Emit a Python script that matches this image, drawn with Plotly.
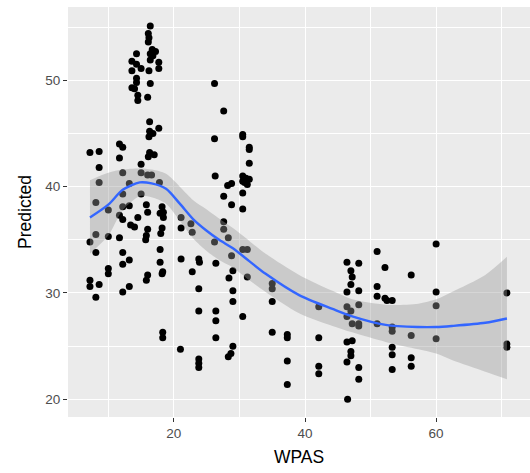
import plotly.graph_objects as go

# ---- scatter data (WPAS, Predicted) ----
wpas = [
    7.2, 7.2, 7.2, 7.2,
    8.1, 8.1, 8.1, 8.1,
    8.6, 8.6, 8.6, 8.6,
    10.0, 10.0, 10.0, 10.0,
    11.7, 11.7, 11.7, 11.7,
    12.2, 12.2, 12.2, 12.2, 12.2, 12.2, 12.2, 12.2,
    13.2, 13.2, 13.2, 13.2, 13.4, 13.6, 13.6, 13.6,
    14.3, 14.3, 14.3, 14.3, 14.0, 14.5, 14.5, 14.5, 14.0,
    15.0, 15.0, 15.0, 15.0,
    16.0, 15.8, 16.0, 16.0, 15.8, 15.7, 16.0, 15.8, 16.0,
    16.4, 16.1, 16.2, 16.1, 16.7, 16.4, 16.8, 16.4, 16.2, 16.4, 16.3, 16.3, 16.8, 16.2,
    16.3, 17.0, 16.1, 16.6,
    17.2, 17.7, 17.7, 17.7, 17.8, 17.9, 17.9, 17.9,
    18.2, 18.4, 18.4, 18.2, 18.0, 18.3, 18.2, 18.3, 18.3,
    21.1, 21.1, 21.1, 21.0,
    22.6, 22.8, 22.8,
    23.8, 23.9, 23.8, 23.8, 23.8, 23.8, 23.8,
    26.2, 26.2, 26.3, 26.2, 26.4, 26.4, 26.4, 26.4,
    27.6, 27.6, 27.6, 27.6,
    28.2, 28.8, 28.8, 28.3, 28.8, 29.0, 28.4, 29.0, 29.0, 29.0, 28.7, 28.3,
    30.5, 30.5, 31.5, 31.5, 31.5, 30.5, 31.0, 31.5, 30.5, 30.8, 31.2, 30.5, 30.5,
    30.5, 31.2, 31.2, 30.5,
    35.0, 35.0, 35.0, 35.0,
    37.3, 37.3, 37.3, 37.3,
    42.1, 42.1, 42.1, 42.1,
    46.4, 47.0, 47.2, 47.0, 46.4, 46.4, 47.0, 46.4, 47.2, 46.4, 47.2, 47.0, 47.0,
    46.4, 46.5,
    48.2, 48.2, 48.2, 48.2, 48.2, 48.2, 48.2,
    51.0, 51.0, 51.0, 51.0,
    52.2, 52.2, 52.5, 53.3, 53.3, 53.3, 53.3, 53.3, 53.3,
    56.2, 56.2, 56.2, 56.2,
    60.0, 60.0, 60.0, 60.0,
    70.8, 70.8, 70.8,
]
predicted = [
    43.2, 34.8, 31.2, 30.6,
    38.5, 35.5, 33.8, 29.6,
    43.3, 41.8, 40.4, 30.8,
    37.8, 35.3, 32.3, 31.8,
    44.0, 42.7, 37.3, 35.2,
    43.7, 41.3, 39.3, 38.1, 36.9, 33.8, 32.7, 30.1,
    40.3, 38.2, 33.1, 30.6, 36.4, 51.8, 50.9, 49.3,
    52.5, 51.5, 50.2, 49.8, 49.2, 48.6, 48.1, 37.1, 36.2,
    51.1, 42.1, 41.3, 39.3,
    48.4, 38.3, 37.6, 36.0, 35.4, 35.0, 31.7, 31.2, 41.1,
    55.1, 54.4, 54.0, 53.6, 52.9, 52.5, 52.3, 51.9, 50.9, 49.7, 46.1, 45.2, 45.0, 44.7,
    43.2, 43.0, 42.8, 41.1,
    52.7, 51.7, 51.1, 45.5, 40.4, 37.5, 34.1, 32.9,
    38.1, 37.6, 37.1, 36.1, 35.6, 32.0, 31.8, 26.3, 25.8,
    37.1, 36.1, 33.2, 24.7,
    36.5, 35.7, 32.0,
    33.2, 32.9, 30.4, 28.3, 23.8, 23.4, 23.0,
    49.7, 44.5, 41.0, 34.8, 32.8, 28.3, 27.4, 25.8,
    47.1, 39.1, 36.7, 36.0,
    40.1, 40.3, 38.3, 35.2, 33.5, 32.1, 31.4, 30.2, 29.2, 25.0, 24.3, 24.0,
    44.9, 44.7, 43.7, 43.5, 42.2, 41.0, 40.8, 40.7, 40.5, 40.4, 40.2, 39.4, 37.9,
    34.1, 34.1, 31.5, 27.8,
    30.9, 30.4, 29.2, 26.3,
    26.1, 25.8, 23.6, 21.4,
    28.7, 25.8, 23.1, 22.4,
    32.9, 32.1, 31.5, 30.8, 30.1, 28.7, 28.3, 27.8, 27.1, 25.4, 25.5, 24.5, 24.1,
    23.5, 20.0,
    32.8, 30.2, 28.9, 27.1, 26.9, 23.0, 21.9,
    33.9, 30.6, 29.7, 27.1,
    32.4, 29.5, 29.3, 29.3, 26.8, 26.4, 24.9, 24.2, 22.8,
    31.7, 26.0, 23.9, 23.1,
    34.6, 30.1, 28.8, 25.7,
    30.0, 25.2, 24.9,
]

# ---- smoother (loess fit and confidence band) ----
smooth_x  = [7.2, 10.0, 12.2, 14.8, 16.6, 18.8, 20.9, 23.0, 24.9, 26.9, 29.0, 31.5, 34.0, 39.1, 44.2, 47.2, 52.3, 57.3, 60.0, 62.4, 67.5, 70.8]
smooth_y  = [37.1, 38.3, 39.7, 40.4, 40.3, 39.8, 38.4, 36.9, 35.9, 35.0, 34.2, 33.0, 31.8, 29.8, 28.5, 27.8, 27.0, 26.8, 26.8, 26.9, 27.2, 27.6]
band_hi   = [40.6, 41.3, 41.6, 41.7, 41.6, 41.2, 40.0, 38.7, 37.9, 37.0, 36.1, 34.9, 33.7, 31.7, 30.2, 29.4, 28.9, 29.0, 29.4, 30.1, 31.7, 33.4]
band_lo   = [33.7, 35.4, 37.8, 39.1, 39.0, 38.4, 36.8, 35.1, 34.0, 33.1, 32.4, 31.2, 30.1, 28.1, 26.9, 26.3, 25.4, 24.7, 24.3, 23.7, 22.6, 21.9]

x_ticks = [20, 40, 60]
y_ticks = [20, 30, 40, 50]
x_minor = [10, 30, 50, 70]
y_minor = [25, 35, 45, 55]

FONT = "Liberation Sans, Arial, sans-serif"

fig = go.Figure()
fig.add_trace(go.Scatter(
    x=wpas, y=predicted, mode="markers",
    marker=dict(color="black", size=7, line=dict(width=0)),
    hoverinfo="skip", showlegend=False,
))
# confidence band: lower edge, then upper edge filled to it
fig.add_trace(go.Scatter(
    x=smooth_x, y=band_lo, mode="lines",
    line=dict(width=0, shape="spline", smoothing=0.8), hoverinfo="skip", showlegend=False,
))
fig.add_trace(go.Scatter(
    x=smooth_x, y=band_hi, mode="lines", fill="tonexty",
    fillcolor="rgba(153,153,153,0.4)",
    line=dict(width=0, shape="spline", smoothing=0.8), hoverinfo="skip", showlegend=False,
))
fig.add_trace(go.Scatter(
    x=smooth_x, y=smooth_y, mode="lines",
    line=dict(color="#3366FF", width=2.4, shape="spline", smoothing=0.8),
    hoverinfo="skip", showlegend=False,
))

axis_common = dict(
    showgrid=True, gridcolor="white", gridwidth=1.4,
    zeroline=False, showline=False,
    ticks="outside", ticklen=4, tickwidth=1, tickcolor="#333333",
    tickfont=dict(family=FONT, size=13.5, color="#4D4D4D"),
)

fig.update_layout(
    width=530, height=473,
    margin=dict(l=68, r=0, t=7, b=56),
    paper_bgcolor="white", plot_bgcolor="#EBEBEB",
    font=dict(family=FONT),
    xaxis=dict(
        range=[3.85, 74.32], tickvals=x_ticks,
        minor=dict(tickvals=x_minor, showgrid=True, gridcolor="white", gridwidth=0.7, ticks=""),
        title=dict(text="WPAS", font=dict(family=FONT, size=17.5, color="black"), standoff=10),
        **axis_common,
    ),
    yaxis=dict(
        range=[18.34, 56.89], tickvals=y_ticks,
        minor=dict(tickvals=y_minor, showgrid=True, gridcolor="white", gridwidth=0.7, ticks=""),
        title=dict(text="Predicted", font=dict(family=FONT, size=17.5, color="black"), standoff=9),
        **axis_common,
    ),
)

fig.write_html("out.html")
